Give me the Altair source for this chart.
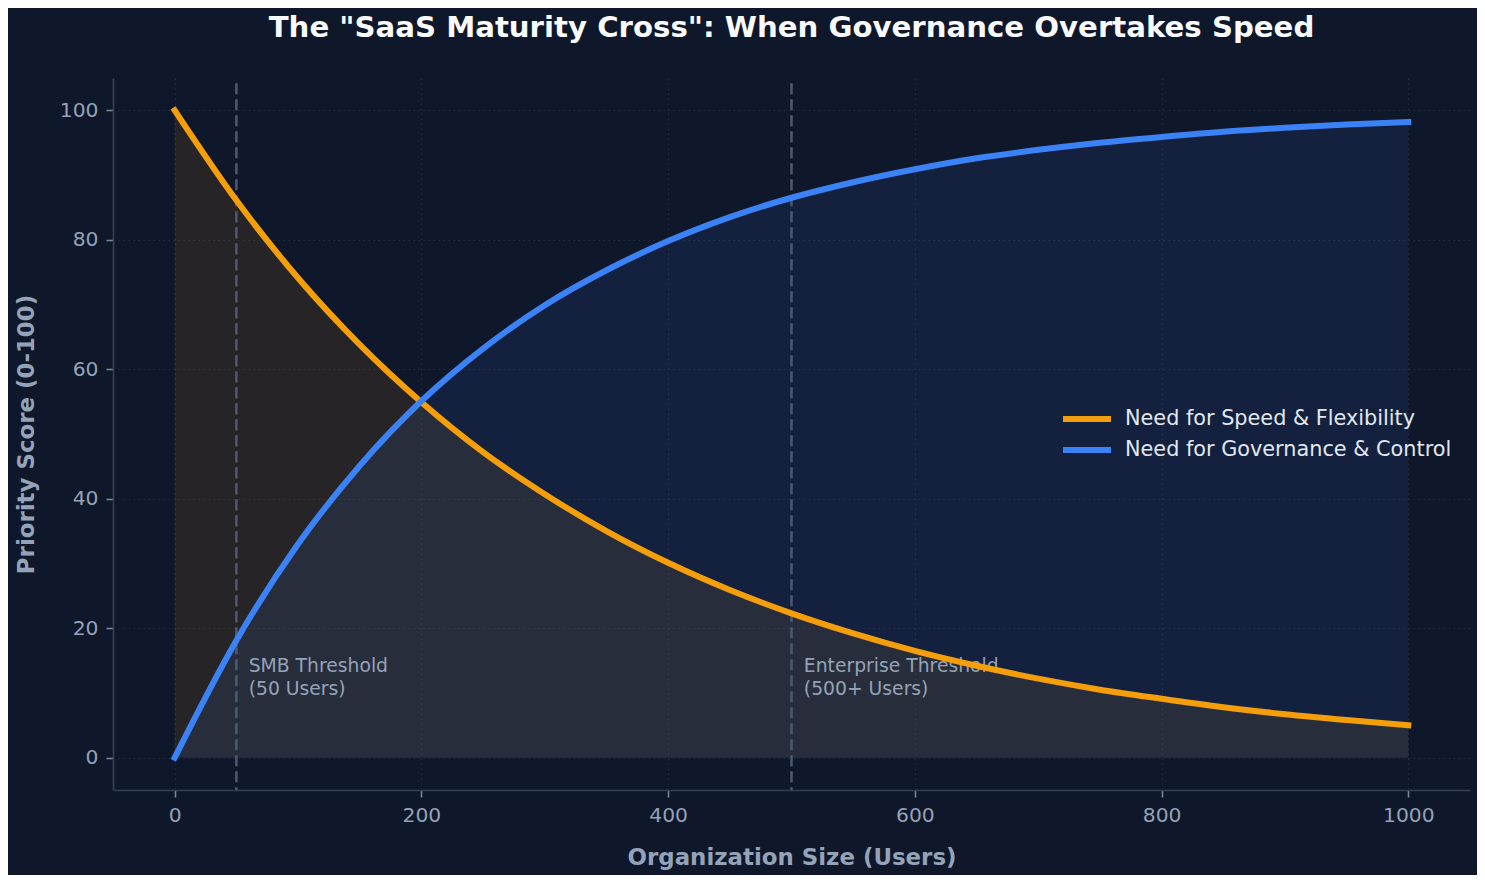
import altair as alt
import pandas as pd

# organization size (users), read every 50 users
users = [0, 50, 100, 150, 200, 250, 300, 350, 400, 450, 500,
         550, 600, 650, 700, 750, 800, 850, 900, 950, 1000]
speed = [100.0, 86.1, 74.1, 63.8, 54.9, 47.2, 40.7, 35.0, 30.1, 25.9, 22.3,
         19.2, 16.5, 14.2, 12.2, 10.5, 9.1, 7.8, 6.7, 5.8, 5.0]
governance = [0.0, 18.1, 33.0, 45.1, 55.1, 63.2, 69.9, 75.3, 79.8, 83.5, 86.5,
              88.9, 90.9, 92.6, 93.9, 95.0, 95.9, 96.7, 97.3, 97.8, 98.2]

SPEED = "Need for Speed & Flexibility"
GOV = "Need for Governance & Control"
ORANGE = "#f59e0b"
BLUE = "#3b82f6"
BG = "#0f172a"
FONT = "DejaVu Sans"

thresholds = [50, 500]
ann_x = [60, 510]
ann_y = [13.3, 13.3]
ann_text = ["SMB Threshold\n(50 Users)", "Enterprise Threshold\n(500+ Users)"]

df = pd.concat([
    pd.DataFrame({"users": users, "score": speed, "series": SPEED}),
    pd.DataFrame({"users": users, "score": governance, "series": GOV}),
])
df["base"] = 0
rules = pd.DataFrame({"users": thresholds, "top": 104.2, "bottom": -5})
notes = pd.DataFrame({"users": ann_x, "score": ann_y, "label": ann_text})

xs = alt.Scale(domain=[-50, 1050], nice=False, zero=False)
ys = alt.Scale(domain=[-5, 105], nice=False, zero=False)

x_axis = alt.Axis(
    values=[0, 200, 400, 600, 800, 1000], format="d", title="Organization Size (Users)",
    titleX=678.5, titleY=74, titleBaseline="alphabetic", titleAlign="center",
)
y_axis = alt.Axis(
    values=[0, 20, 40, 60, 80, 100], format="d", title="Priority Score (0-100)",
    titleX=-80, titleY=356, titleBaseline="alphabetic", titleAlign="center",
    titleAngle=270,
)


def X(field):
    return alt.X(field, scale=xs, axis=x_axis)


def Y(field, **kw):
    return alt.Y(field, scale=ys, axis=y_axis, **kw)


def area(name, color):
    return (
        alt.Chart(df)
        .transform_filter(alt.datum.series == name)
        .mark_area(color=color, opacity=0.1, interpolate="monotone")
        .encode(x=X("users:Q"), y=Y("score:Q", stack=None), y2="base:Q")
    )


thresh = (
    alt.Chart(rules)
    .mark_rule(color="#4b5a70", strokeWidth=2.5, strokeDash=[11, 5])
    .encode(x=X("users:Q"), y=Y("top:Q"), y2="bottom:Q")
)

labels = (
    alt.Chart(notes)
    .mark_text(align="left", baseline="alphabetic", lineBreak="\n", lineHeight=23.3,
               fontSize=18.75, font=FONT, color="#94a3b8")
    .encode(x=X("users:Q"), y=Y("score:Q"), text="label:N")
)

lines = (
    alt.Chart(df)
    .mark_line(strokeWidth=6, interpolate="monotone", strokeCap="square")
    .encode(
        x=X("users:Q"),
        y=Y("score:Q"),
        color=alt.Color(
            "series:N",
            scale=alt.Scale(domain=[SPEED, GOV], range=[ORANGE, BLUE]),
            legend=alt.Legend(
                title=None, orient="none", legendX=950, legendY=326, padding=0,
                symbolType="M-2,0L2,0", symbolSize=576, symbolStrokeWidth=6,
                symbolOffset=9, labelOffset=23, rowPadding=4, labelLimit=500,
                labelFontSize=20.8, labelFont=FONT, labelColor="#e2e8f0",
            ),
        ),
        order="users:Q",
    )
)

chart = (
    alt.layer(area(SPEED, ORANGE), area(GOV, BLUE), thresh, labels, lines)
    .properties(
        width=1357,
        height=712,
        autosize=alt.AutoSizeParams(type="none"),
        padding={"left": 105, "top": 70, "right": 7, "bottom": 85},
        background=BG,
        title=alt.TitleParams(
            'The "SaaS Maturity Cross": When Governance Overtakes Speed',
            font=FONT, fontSize=29.2, fontWeight="bold", color="#f8fafc",
            anchor="middle", offset=35,
        ),
    )
    .configure_view(stroke=None, fill=BG)
    .configure_axis(
        labelFont=FONT, labelFontSize=20.3, labelColor="#94a3b8", labelPadding=8,
        titleFont=FONT, titleFontSize=22.9, titleFontWeight="bold", titleColor="#94a3b8",
        tickColor="#7b879b", tickSize=7, tickWidth=1.6,
        domainColor="#334155", domainWidth=1.7,
        grid=True, gridColor="#334155", gridOpacity=0.5, gridDash=[1.5, 3.5], gridWidth=1.2,
    )
)

chart.save("out.html", embed_options={"renderer": "svg", "actions": False})
